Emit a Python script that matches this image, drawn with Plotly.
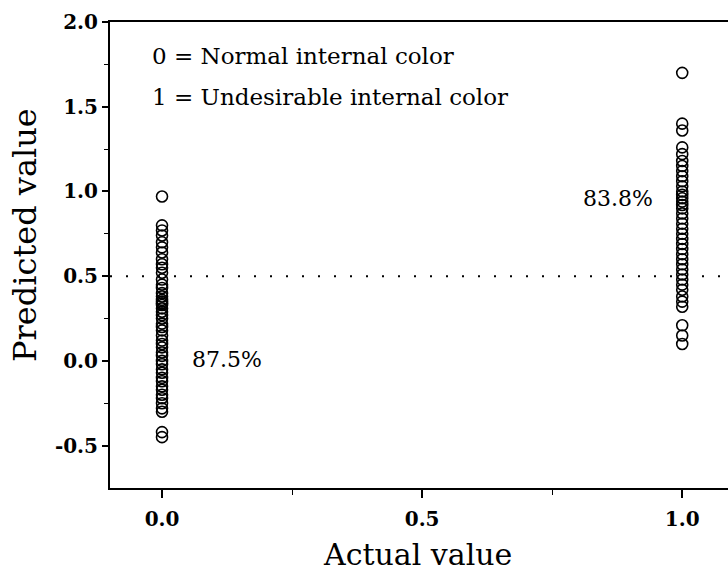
import plotly.graph_objects as go

# Data
normal_actual = 0.0
normal_pred = [0.97, 0.80, 0.77, 0.74, 0.70, 0.67, 0.64, 0.60, 0.57, 0.55, 0.52,
               0.48, 0.45, 0.43, 0.40, 0.38, 0.36, 0.35, 0.34, 0.33, 0.31, 0.29,
               0.27, 0.25, 0.22, 0.20, 0.18, 0.15, 0.12, 0.10, 0.08, 0.05, 0.03,
               0.00, -0.02, -0.05, -0.07, -0.10, -0.12, -0.15, -0.17, -0.20,
               -0.22, -0.25, -0.28, -0.30, -0.42, -0.45]
undesirable_actual = 1.0
undesirable_pred = [1.70, 1.40, 1.36, 1.26, 1.22, 1.18, 1.15, 1.12, 1.09, 1.06, 1.03,
                    1.00, 0.98, 0.96, 0.94, 0.92, 0.90, 0.87, 0.84, 0.81, 0.78, 0.75,
                    0.72, 0.69, 0.66, 0.63, 0.60, 0.57, 0.54, 0.51, 0.48, 0.45, 0.42,
                    0.38, 0.35, 0.32, 0.21, 0.15, 0.10]
threshold = 0.5
x_range = [-0.1, 1.088]
y_range = [-0.75, 2.0]
tick_vals = [0.0, 0.5, 1.0]
y_tick_vals = [-0.5, 0.0, 0.5, 1.0, 1.5, 2.0]
normal_label = "87.5%"
undesirable_label = "83.8%"
legend_lines = ["0 = Normal internal color", "1 = Undesirable internal color"]

FONT = "DejaVu Serif"
marker = dict(symbol="circle-open", size=11, color="black", line=dict(width=1.6, color="black"))

fig = go.Figure()
fig.add_trace(go.Scatter(x=[normal_actual] * len(normal_pred), y=normal_pred,
                         mode="markers", marker=marker, showlegend=False))
fig.add_trace(go.Scatter(x=[undesirable_actual] * len(undesirable_pred), y=undesirable_pred,
                         mode="markers", marker=marker, showlegend=False))
fig.add_trace(go.Scatter(x=x_range, y=[threshold, threshold], mode="lines",
                         line=dict(color="black", width=2, dash="2px,14px"),
                         showlegend=False, hoverinfo="skip"))

fig.add_annotation(x=-0.023, y=1.80, text=legend_lines[0], showarrow=False,
                   xanchor="left", yanchor="middle", font=dict(family=FONT, size=23, color="black"))
fig.add_annotation(x=-0.023, y=1.555, text=legend_lines[1], showarrow=False,
                   xanchor="left", yanchor="middle", font=dict(family=FONT, size=23, color="black"))
fig.add_annotation(x=0.054, y=0.01, text=normal_label, showarrow=False,
                   xanchor="left", yanchor="middle", font=dict(family=FONT, size=22, color="black"))
fig.add_annotation(x=0.948, y=0.96, text=undesirable_label, showarrow=False,
                   xanchor="right", yanchor="middle", font=dict(family=FONT, size=22, color="black"))

# axis titles
fig.add_annotation(xref="paper", yref="paper", x=-0.1375, y=0.543, text="Predicted value",
                   textangle=-90, showarrow=False, xanchor="center", yanchor="middle",
                   font=dict(family=FONT, size=32, color="black"))
fig.add_annotation(xref="paper", yref="paper", x=0.498, y=-0.143, text="Actual value",
                   showarrow=False, xanchor="center", yanchor="middle",
                   font=dict(family=FONT, size=30, color="black"))

fig.update_xaxes(range=x_range, tickvals=tick_vals, ticktext=[f"<b>{v:.1f}</b>" for v in tick_vals],
                 ticks="outside",
                 ticklen=8, tickwidth=1.5, tickcolor="black", showline=True, linecolor="black",
                 linewidth=2, mirror=True, showgrid=False, zeroline=False,
                 minor=dict(tickvals=[0.25, 0.75], ticks="outside", ticklen=5, tickcolor="black", tickwidth=1.2),
                 tickfont=dict(family=FONT, size=20, color="black"), ticklabelstandoff=4)
fig.update_yaxes(range=y_range, tickvals=y_tick_vals, ticktext=[f"<b>{v:.1f}</b>" for v in y_tick_vals],
                 ticks="outside",
                 ticklen=6, tickwidth=1.5, tickcolor="black", showline=True, linecolor="black",
                 linewidth=2, mirror=False, showgrid=False, zeroline=False,
                 minor=dict(tickvals=[-0.25, 0.25, 0.75, 1.25, 1.75], ticks="outside", ticklen=4,
                            tickcolor="black", tickwidth=1.2),
                 tickfont=dict(family=FONT, size=20, color="black"))

fig.update_layout(width=728, height=573, margin=dict(l=110, r=0, t=22, b=85),
                  plot_bgcolor="white", paper_bgcolor="white")

fig.write_html("out.html")
